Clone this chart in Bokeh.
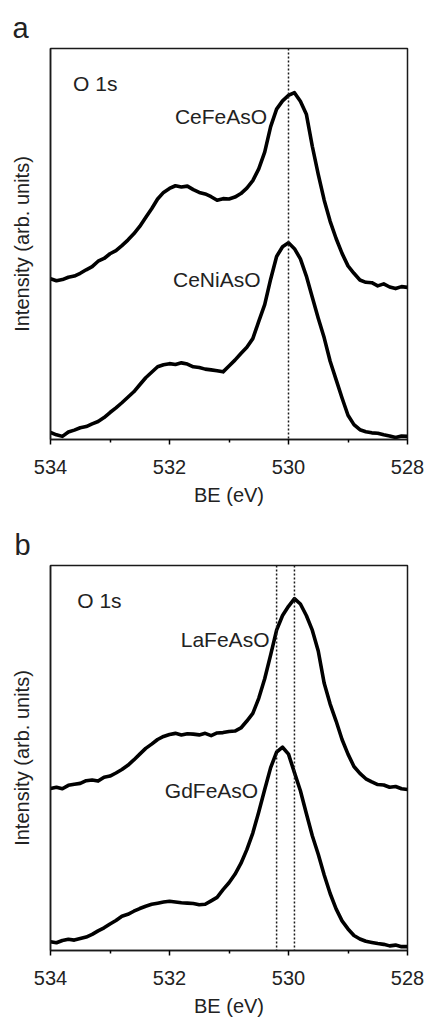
from bokeh.plotting import figure
from bokeh.layouts import column
from bokeh.models import Range1d, FixedTicker, Span, Label
from bokeh.embed import file_html
from bokeh.resources import INLINE

FONT = "Liberation Sans"

# Binding energy sample positions (eV), 534 -> 528
be = [534.0, 533.9, 533.8, 533.7, 533.6, 533.5, 533.4, 533.3, 533.2, 533.1,
      533.0, 532.9, 532.8, 532.7, 532.6, 532.5, 532.4, 532.3, 532.2, 532.1,
      532.0, 531.9, 531.8, 531.7, 531.6, 531.5, 531.4, 531.3, 531.2, 531.1,
      531.0, 530.9, 530.8, 530.7, 530.6, 530.5, 530.4, 530.3, 530.2, 530.1,
      530.0, 529.9, 529.8, 529.7, 529.6, 529.5, 529.4, 529.3, 529.2, 529.1,
      529.0, 528.9, 528.8, 528.7, 528.6, 528.5, 528.4, 528.3, 528.2, 528.1,
      528.0]

# Panel a
cefeaso = [41.1, 40.6, 40.9, 41.5, 41.8, 42.5, 43.4, 44.2, 45.6, 46.3,
           47.5, 48.3, 49.6, 51.0, 52.6, 54.5, 56.8, 59.0, 61.5, 63.2,
           64.2, 64.9, 64.6, 64.8, 63.9, 63.2, 62.8, 62.1, 61.2, 61.6,
           61.5, 62.0, 62.9, 64.3, 66.2, 69.2, 73.5, 80.0, 84.5, 86.6,
           88.0, 88.7, 86.5, 83.2, 75.0, 67.8, 61.2, 55.8, 51.4, 47.6,
           44.4, 42.5, 40.8, 40.2, 40.1, 39.3, 39.8, 39.0, 38.6, 39.1,
           38.9]
ceniaso = [1.8, 1.2, 0.8, 1.9, 2.4, 3.0, 3.3, 4.0, 4.6, 5.6,
           6.9, 8.1, 9.4, 10.8, 12.2, 14.0, 15.8, 17.2, 18.6, 19.1,
           19.4, 19.2, 19.6, 19.3, 18.6, 18.4, 18.0, 17.8, 17.6, 17.3,
           18.8, 20.3, 22.0, 23.6, 25.8, 30.2, 34.5, 41.0, 46.8, 49.3,
           50.3, 48.8, 46.2, 41.8, 36.4, 31.0, 26.0, 20.0, 15.3, 10.6,
           6.2, 3.8, 2.5, 2.0, 1.7, 1.6, 1.2, 0.9, 0.5, 0.9,
           0.8]

# Panel b
lafeaso = [42.1, 42.4, 42.0, 42.9, 43.2, 43.4, 44.1, 44.3, 44.0, 45.0,
           45.3, 46.1, 47.0, 48.1, 49.5, 51.0, 52.5, 53.6, 54.8, 55.6,
           56.1, 56.4, 56.0, 56.3, 56.2, 56.0, 56.4, 55.8, 56.5, 56.6,
           56.9, 57.0, 57.8, 59.6, 61.6, 65.5, 70.6, 76.8, 83.2, 87.0,
           89.4, 91.4, 90.0, 87.0, 83.2, 77.8, 69.4, 64.0, 59.6, 54.8,
           51.0, 47.8, 46.0, 44.6, 43.8, 43.1, 43.0, 42.4, 42.6, 42.0,
           41.8]
gdfeaso = [2.3, 2.0, 2.6, 2.9, 2.7, 3.1, 3.5, 4.2, 5.1, 5.9,
           6.9, 7.8, 8.9, 9.4, 10.2, 10.9, 11.5, 12.0, 12.3, 12.6,
           12.8, 12.6, 12.4, 12.3, 12.2, 11.9, 12.0, 12.9, 13.8, 15.8,
           17.6, 19.8, 22.6, 26.2, 30.5, 36.0, 41.8, 47.5, 51.5, 52.8,
           51.0, 46.2, 41.5, 35.6, 29.8, 25.0, 19.6, 14.8, 10.8, 7.7,
           5.6, 3.9, 3.0, 2.4, 2.1, 1.8, 1.6, 1.2, 1.4, 1.0,
           1.0]

ref_lines_a = [530.0]
ref_lines_b = [530.2, 529.9]

names_a = ["CeFeAsO", "CeNiAsO"]
names_b = ["LaFeAsO", "GdFeAsO"]
x_ticks = [534, 532, 530, 528]
x_minor = [533, 531, 529]


def make_panel(letter, curves, names, name_xy, ref_lines, height,
               b_left, b_right, b_top, b_bottom, o1s_x):
    p = figure(width=425, height=height,
               x_range=Range1d(534, 528), y_range=Range1d(0, 100),
               output_backend="svg", toolbar_location=None,
               min_border_left=b_left, min_border_right=b_right,
               min_border_top=b_top, min_border_bottom=b_bottom)
    p.grid.visible = False
    p.outline_line_color = "#1a1a1a"
    p.outline_line_width = 1.5
    p.background_fill_color = "white"
    p.border_fill_color = "white"

    # panel letter as the figure title
    p.title.text = letter
    p.title.text_font = FONT
    p.title.text_font_size = "29px"
    p.title.text_font_style = "normal"
    p.title.text_color = "#222222"
    p.title.align = "left"
    p.title.offset = -(b_left - 12)

    xa = p.xaxis[0]
    xa.ticker = FixedTicker(ticks=x_ticks, minor_ticks=x_minor)
    xa.major_tick_in = 0
    xa.major_tick_out = 5
    xa.minor_tick_in = 0
    xa.minor_tick_out = 3
    xa.major_tick_line_width = 1.5
    xa.minor_tick_line_width = 1.5
    xa.axis_line_width = 1.5
    xa.axis_line_color = "#1a1a1a"
    xa.major_label_text_font = FONT
    xa.major_label_text_font_size = "20px"
    xa.major_label_text_color = "#222222"
    xa.major_label_standoff = 15
    xa.axis_label = "BE (eV)"
    xa.axis_label_text_font = FONT
    xa.axis_label_text_font_size = "20px"
    xa.axis_label_text_font_style = "normal"
    xa.axis_label_text_color = "#222222"
    xa.axis_label_standoff = 7

    ya = p.yaxis[0]
    ya.ticker = FixedTicker(ticks=[], minor_ticks=[])
    ya.axis_line_width = 1.5
    ya.axis_line_color = "#1a1a1a"
    ya.axis_label = "Intensity (arb. units)"
    ya.axis_label_text_font = FONT
    ya.axis_label_text_font_size = "20px"
    ya.axis_label_text_font_style = "normal"
    ya.axis_label_text_color = "#222222"
    ya.axis_label_standoff = 18

    for v in ref_lines:
        p.add_layout(Span(location=v, dimension="height", line_color="#1a1a1a",
                          line_width=1.5, line_dash="2 2"))

    for ys in curves:
        p.line(be, ys, line_color="black", line_width=3.6, line_join="round")

    for name, (lx, ly) in zip(names, name_xy):
        p.add_layout(Label(x=lx, y=ly, text=name, text_font=FONT,
                           text_font_size="21px", text_color="#222222",
                           text_align="right", text_baseline="middle"))

    p.add_layout(Label(x=o1s_x, y=91.0, text="O 1s", text_font=FONT,
                       text_font_size="21px", text_color="#222222",
                       text_align="left", text_baseline="middle"))
    return p


pa = make_panel("a", [cefeaso, ceniaso], names_a,
                [(530.36, 82.7), (530.47, 40.8)], ref_lines_a,
                height=508, b_left=50, b_right=16, b_top=48, b_bottom=68,
                o1s_x=533.62)
pb = make_panel("b", [lafeaso, gdfeaso], names_b,
                [(530.32, 80.9), (530.51, 41.6)], ref_lines_b,
                height=511, b_left=48, b_right=18, b_top=57, b_bottom=62,
                o1s_x=533.55)

layout = column(pa, pb, spacing=0)
open("out.html", "w").write(file_html(layout, INLINE))
